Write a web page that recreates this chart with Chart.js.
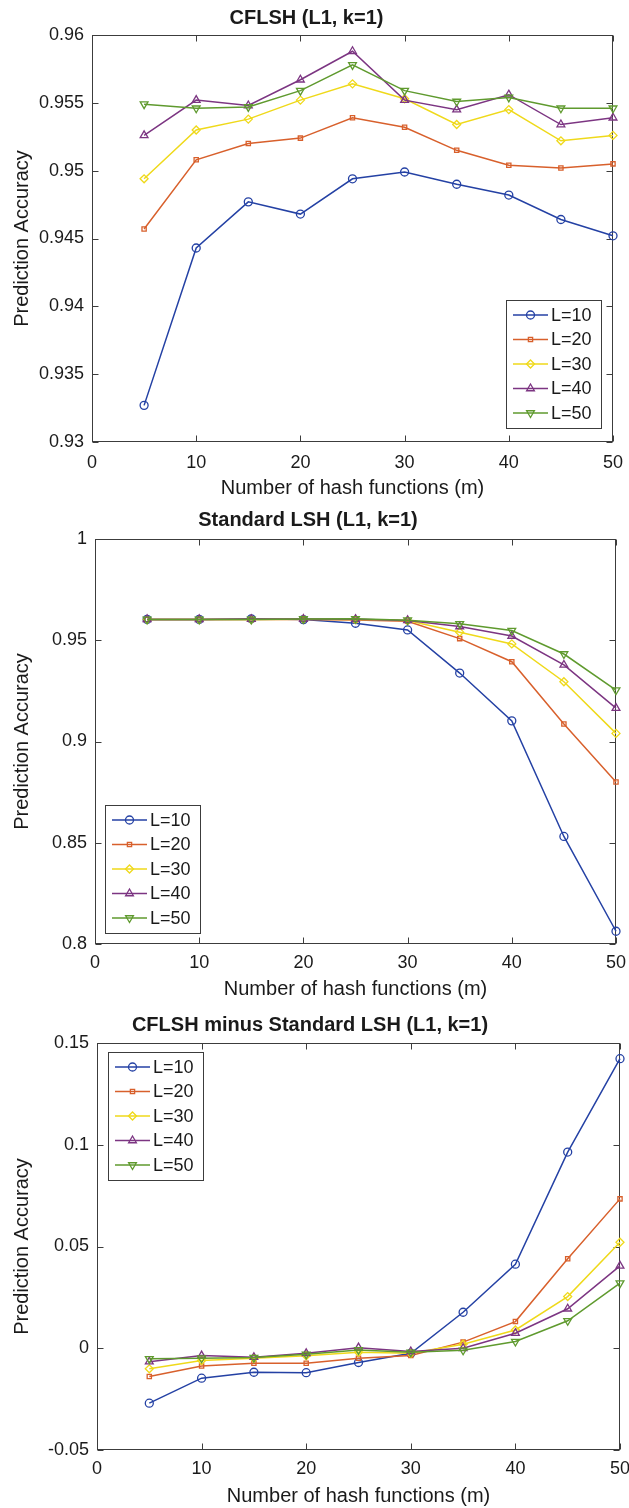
<!DOCTYPE html>
<html>
<head>
<meta charset="utf-8">
<title>CFLSH vs Standard LSH</title>
<script src="https://cdn.jsdelivr.net/npm/chart.js@4.4.1/dist/chart.umd.min.js"></script>
<style>
  html,body{margin:0;padding:0;background:#fff}
  body{width:629px;height:1508px;position:relative;overflow:hidden}
  canvas{position:absolute;left:0;display:block}
</style>
</head>
<body>
<canvas id="cflshChart" width="629" height="500" style="top:0"></canvas>
<canvas id="lshChart" width="629" height="505" style="top:500px"></canvas>
<canvas id="diffChart" width="629" height="503" style="top:1005px"></canvas>
<script>
/* ═══════════════════════════════════════
   CFLSH / Standard LSH accuracy (L1, k=1)
═══════════════════════════════════════ */

const M_VALUES = [5,10,15,20,25,30,35,40,45,50];
const L_LABELS = ['L=10','L=20','L=30','L=40','L=50'];
const X_TICKS  = [0,10,20,30,40,50];

/* ── CFLSH ── */
const CFLSH_TICKS = [0.93,0.935,0.94,0.945,0.95,0.955,0.96];
const CFLSH_L10 = [0.9327,0.9443,0.9477,0.9468,0.9494,0.9499,0.9490,0.9482,0.9464,0.9452];
const CFLSH_L20 = [0.9457,0.9508,0.9520,0.9524,0.9539,0.9532,0.9515,0.9504,0.9502,0.9505];
const CFLSH_L30 = [0.9494,0.9530,0.9538,0.9552,0.9564,0.9553,0.9534,0.9545,0.9522,0.9526];
const CFLSH_L40 = [0.9526,0.9552,0.9548,0.9567,0.9588,0.9552,0.9545,0.9556,0.9534,0.9539];
const CFLSH_L50 = [0.9549,0.9546,0.9547,0.9559,0.9578,0.9559,0.9551,0.9554,0.9546,0.9546];

/* ── Standard LSH ── */
const LSH_TICKS = [0.8,0.85,0.9,0.95,1];
const LSH_L10 = [0.9603,0.9603,0.9606,0.9602,0.9584,0.9551,0.9338,0.9102,0.8531,0.8063];
const LSH_L20 = [0.9602,0.9602,0.9603,0.9603,0.9600,0.9594,0.9508,0.9394,0.9086,0.8800];
const LSH_L30 = [0.9602,0.9602,0.9603,0.9604,0.9602,0.9597,0.9540,0.9482,0.9295,0.9040];
const LSH_L40 = [0.9603,0.9603,0.9604,0.9605,0.9604,0.9598,0.9568,0.9521,0.9378,0.9165];
const LSH_L50 = [0.9603,0.9603,0.9603,0.9605,0.9606,0.9599,0.9581,0.9548,0.9432,0.9254];

/* ── CFLSH minus Standard LSH ── */
const DIFF_TICKS = [-0.05,0,0.05,0.1,0.15];
const DIFF_L10 = [-0.0270,-0.0147,-0.0118,-0.0120,-0.0070,-0.0025,0.0177,0.0413,0.0964,0.1423];
const DIFF_L20 = [-0.0139,-0.0087,-0.0074,-0.0074,-0.0049,-0.0036,0.0030,0.0131,0.0440,0.0734];
const DIFF_L30 = [-0.0101,-0.0060,-0.0049,-0.0037,-0.0020,-0.0025,0.0020,0.0090,0.0254,0.0521];
const DIFF_L40 = [-0.0066,-0.0036,-0.0044,-0.0025,0.0003,-0.0016,0.0000,0.0074,0.0194,0.0405];
const DIFF_L50 = [-0.0052,-0.0049,-0.0046,-0.0030,-0.0008,-0.0020,-0.0010,0.0033,0.0135,0.0320];

const FONT = '"Liberation Sans", Arial, Helvetica, sans-serif';
const INK  = '#1a1a1a';
const AXIS = '#3c3c3c';

// matlab-ish line colours + open markers
const SERIES_STYLE = [
  { color:'#2441a4', pointStyle:'circle',   pointRadius:4 },
  { color:'#d8602c', pointStyle:'rect',     pointRadius:3 },
  { color:'#efd91a', pointStyle:'rectRot',  pointRadius:4 },
  { color:'#7c3582', pointStyle:'triangle', pointRadius:4.5 },
  { color:'#5f9a2e', pointStyle:'triangle', pointRadius:4.5, pointRotation:180 },
];

/* ── box round the axes, with inward ticks on all four sides ── */
const framePlugin = {
  id:'frame',
  beforeDatasetsDraw(chart) {
    const { ctx, chartArea:a, scales:{ x, y } } = chart;
    const L = Math.round(a.left)+.5, R = Math.round(a.right)-.5, T = Math.round(a.top)+.5, B = Math.round(a.bottom)-.5;
    const len = 6;
    ctx.save();
    ctx.strokeStyle = AXIS; ctx.lineWidth = 1;
    ctx.strokeRect(L, T, R-L, B-T);
    ctx.beginPath();
    x.ticks.forEach(t => {
      const px = Math.round(x.getPixelForValue(t.value))+.5;
      ctx.moveTo(px, B); ctx.lineTo(px, B-len);
      ctx.moveTo(px, T); ctx.lineTo(px, T+len);
    });
    y.ticks.forEach(t => {
      const py = Math.round(y.getPixelForValue(t.value))+.5;
      ctx.moveTo(L, py); ctx.lineTo(L+len, py);
      ctx.moveTo(R, py); ctx.lineTo(R-len, py);
    });
    ctx.stroke();
    ctx.restore();
  }
};

/* ── boxed legend sitting inside the plot area ── */
const boxLegend = {
  id:'boxLegend',
  afterDatasetsDraw(chart, args, opts) {
    const { ctx, chartArea:a } = chart;
    const w = 95, h = 128, rowH = 24.5;
    const left = Math.round(opts.corner.includes('w') ? a.left + opts.dx : a.right - opts.dx - w);
    const top  = Math.round(opts.corner.includes('n') ? a.top + opts.dy : a.bottom - opts.dy - h);
    ctx.save();
    ctx.fillStyle = '#fff';
    ctx.fillRect(left, top, w, h);
    ctx.strokeStyle = AXIS; ctx.lineWidth = 1;
    ctx.strokeRect(left+.5, top+.5, w, h);
    ctx.font = `18px ${FONT}`;
    ctx.textBaseline = 'middle';
    chart.data.datasets.forEach((ds, i) => {
      const yy = top + 15 + i*rowH;
      ctx.strokeStyle = ds.borderColor;
      ctx.lineWidth = ds.borderWidth;
      ctx.beginPath(); ctx.moveTo(left+7, yy); ctx.lineTo(left+42, yy); ctx.stroke();
      ctx.lineWidth = ds.pointBorderWidth;
      ctx.fillStyle = 'rgba(0,0,0,0)';
      Chart.helpers.drawPoint(ctx, { pointStyle:ds.pointStyle, radius:ds.pointRadius, rotation:ds.pointRotation||0, borderWidth:ds.pointBorderWidth }, left+24.5, yy);
      ctx.fillStyle = INK;
      ctx.fillText(ds.label, left+45, yy+1);
    });
    ctx.restore();
  }
};

function buildPanel(id, cfg) {
  const canvas = document.getElementById(id);
  const W = canvas.width, H = canvas.height, area = cfg.area;
  return new Chart(canvas, {
    type:'line',
    data:{
      datasets: cfg.series.map((vals, i) => {
        const st = SERIES_STYLE[i];
        return {
          label: L_LABELS[i],
          data: M_VALUES.map((m, j) => ({ x:m, y:vals[j] })),
          borderColor: st.color, backgroundColor: st.color,
          borderWidth: 1.5, tension: 0, fill: false, clip: false,
          pointStyle: st.pointStyle, pointRadius: st.pointRadius, pointRotation: st.pointRotation || 0,
          pointBorderColor: st.color, pointBackgroundColor: 'rgba(0,0,0,0)', pointBorderWidth: 1.3,
          order: 5 - i,
        };
      })
    },
    options:{
      responsive:false, animation:false, devicePixelRatio:1,
      layout:{ padding:{ left:0, top:0, bottom:0, right:W - area.right } },
      plugins:{
        legend:{ display:false }, tooltip:{ enabled:false },
        title:{ display:true, text:cfg.title, color:INK, font:{ family:FONT, size:20, weight:'bold' },
                padding:{ top:cfg.titlePad[0], bottom:cfg.titlePad[1] } },
        boxLegend: cfg.legend,
      },
      scales:{
        x:{
          type:'linear', min:0, max:50,
          grid:{ display:false, drawTicks:false }, border:{ display:false },
          afterBuildTicks: s => { s.ticks = X_TICKS.map(v => ({ value:v })); },
          afterFit: s => { s.height = H - area.bottom; s.paddingLeft = 0; s.paddingRight = 0; },
          ticks:{ color:INK, font:{ family:FONT, size:18 }, padding:cfg.xTickPad, maxRotation:0, autoSkip:false },
          title:{ display:true, text:'Number of hash functions (m)', color:INK, font:{ family:FONT, size:20 },
                  padding:{ top:0, bottom:cfg.xTitlePad } }
        },
        y:{
          type:'linear', min:cfg.ticks[0], max:cfg.ticks[cfg.ticks.length-1],
          grid:{ display:false, drawTicks:false }, border:{ display:false },
          afterBuildTicks: s => { s.ticks = cfg.ticks.map(v => ({ value:v })); },
          afterFit: s => { s.width = area.left; s.paddingTop = 0; s.paddingBottom = 0; },
          ticks:{ color:INK, font:{ family:FONT, size:18 }, padding:8, autoSkip:false, callback: v => String(v) },
          title:{ display:true, text:'Prediction Accuracy', color:INK, font:{ family:FONT, size:20 },
                  padding:{ top:10, bottom:0 } }
        }
      }
    },
    plugins:[framePlugin, boxLegend]
  });
}

window.addEventListener('DOMContentLoaded', () => {
  buildPanel('cflshChart', {
    title:'CFLSH (L1, k=1)', ticks:CFLSH_TICKS,
    series:[CFLSH_L10, CFLSH_L20, CFLSH_L30, CFLSH_L40, CFLSH_L50],
    area:{ left:92, right:613, bottom:442 }, titlePad:[6, 5], xTickPad:10, xTitlePad:0,
    legend:{ corner:'se', dx:12, dy:14 }
  });
  buildPanel('lshChart', {
    title:'Standard LSH (L1, k=1)', ticks:LSH_TICKS,
    series:[LSH_L10, LSH_L20, LSH_L30, LSH_L40, LSH_L50],
    area:{ left:95, right:616, bottom:444 }, titlePad:[8.5, 6.5], xTickPad:8, xTitlePad:4,
    legend:{ corner:'sw', dx:10, dy:11 }
  });
  buildPanel('diffChart', {
    title:'CFLSH minus Standard LSH (L1, k=1)', ticks:DIFF_TICKS,
    series:[DIFF_L10, DIFF_L20, DIFF_L30, DIFF_L40, DIFF_L50],
    area:{ left:97, right:620, bottom:445 }, titlePad:[8, 6], xTickPad:8, xTitlePad:0,
    legend:{ corner:'nw', dx:11, dy:9 }
  });
});
</script>
</body>
</html>
